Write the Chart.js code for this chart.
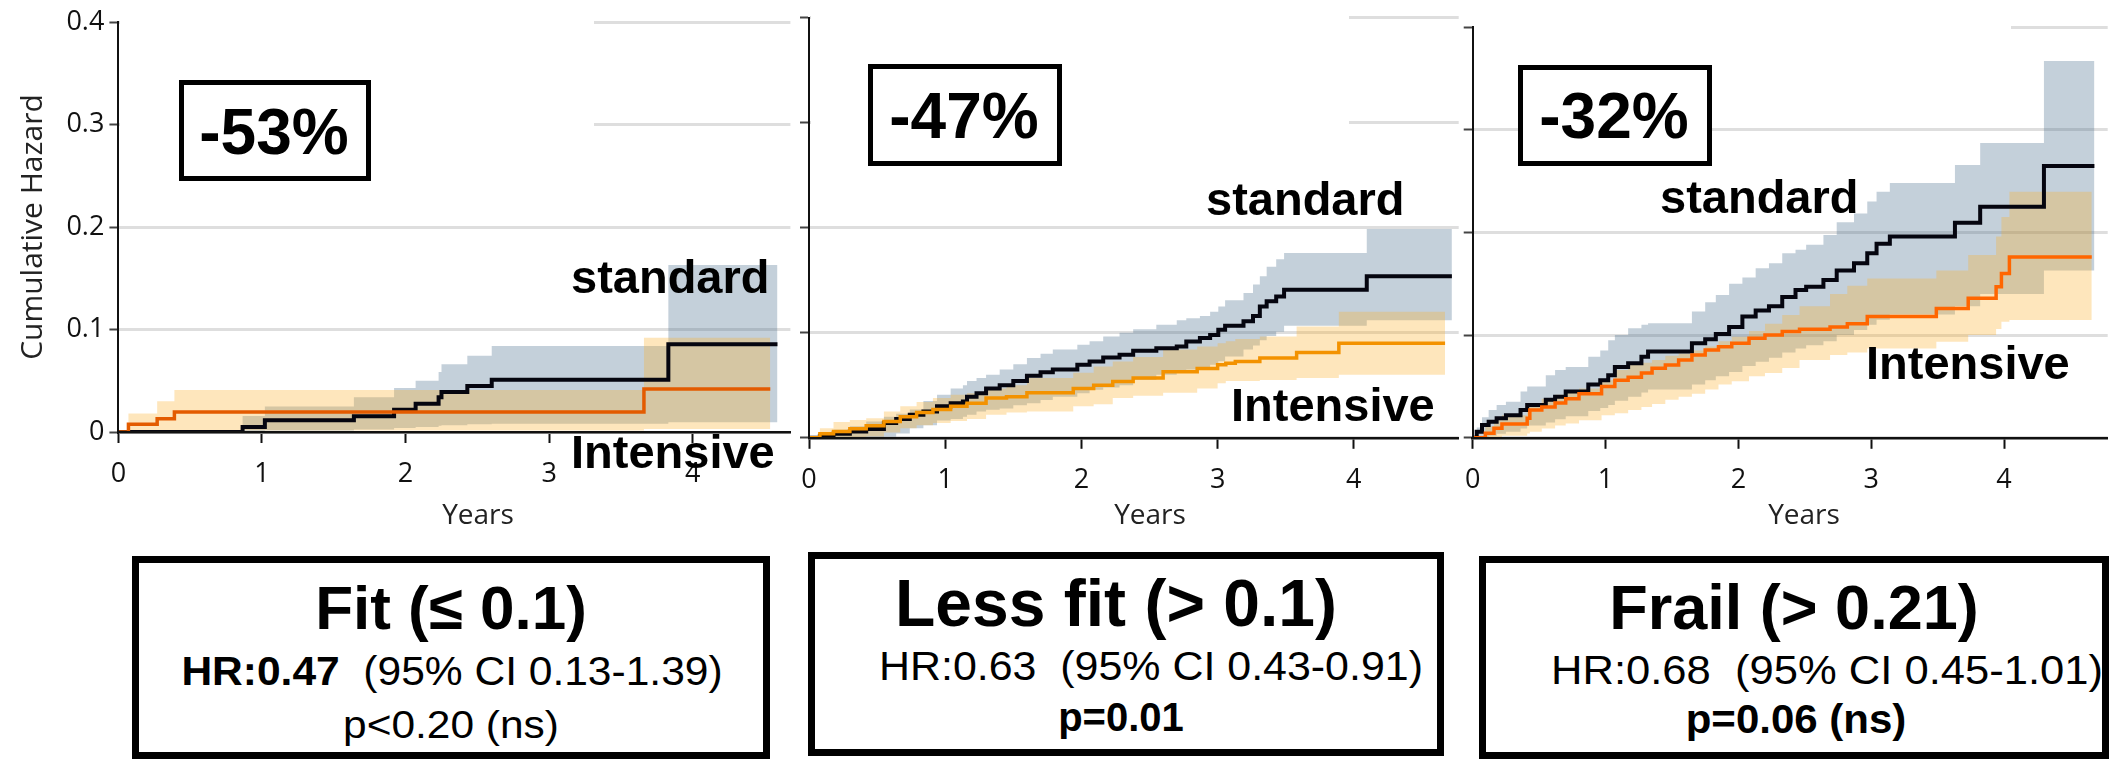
<!DOCTYPE html>
<html>
<head>
<meta charset="utf-8">
<script src="https://cdn.jsdelivr.net/npm/chart.js@4.4.1/dist/chart.umd.min.js"></script>
<style>
  html, body { margin: 0; padding: 0; background: #fff; }
  body { width: 2112px; height: 759px; position: relative; overflow: hidden; font-family: 'Liberation Sans', Arial, sans-serif; }
  canvas { position: absolute; top: 0; }
  .t { position: absolute; white-space: pre; line-height: 1em; color: #000; }
  .c { text-align: center; width: 900px; }
  .b { font-weight: bold; }
  .box { position: absolute; box-sizing: border-box; border: solid #000; background: #fff; }
  .yr { position: absolute; font-family: 'Open Sans'; font-size: 28px; line-height: 30px; width: 200px; text-align: center; color: #222; }
</style>
</head>
<body>
<canvas id="fit" width="800" height="530" style="left:0px"></canvas>
<canvas id="lessfit" width="680" height="530" style="left:785px"></canvas>
<canvas id="frail" width="662" height="530" style="left:1450px"></canvas>

<div class="yr" style="left:378px; top:498px">Years</div>
<div class="yr" style="left:1050px; top:498px">Years</div>
<div class="yr" style="left:1704px; top:498px">Years</div>

<!-- reduction boxes -->
<div class="box" style="left:179px; top:80px; width:192px; height:101px; border-width:5px"></div>
<div class="t c b" style="left:-176px; top:100px; font-size:64px">-53%</div>
<div class="box" style="left:868px; top:64px; width:194px; height:102px; border-width:5px"></div>
<div class="t c b" style="left:514px; top:84px; font-size:64px">-47%</div>
<div class="box" style="left:1518px; top:65px; width:194px; height:101px; border-width:5px"></div>
<div class="t c b" style="left:1164px; top:84px; font-size:64px">-32%</div>

<!-- group labels -->
<div class="t b" style="left:571px; top:253px; font-size:47px">standard</div>
<div class="t b" style="left:571px; top:428px; font-size:47px">Intensive</div>
<div class="t b" style="left:1206px; top:175px; font-size:47px">standard</div>
<div class="t b" style="left:1231px; top:381px; font-size:47px">Intensive</div>
<div class="t b" style="left:1660px; top:173px; font-size:47px">standard</div>
<div class="t b" style="left:1866px; top:339px; font-size:47px">Intensive</div>

<!-- summary boxes -->
<div class="box" style="left:132px; top:556px; width:638px; height:203px; border-width:7px"></div>
<div class="t c b" style="left:1px; top:577px; font-size:62px">Fit (≤ 0.1)</div>
<div class="t c" style="left:2px; top:651px; font-size:40px; transform:scaleX(1.063)"><b>HR:0.47</b>  (95% CI 0.13-1.39)</div>
<div class="t c" style="left:1px; top:706px; font-size:38px; transform:scaleX(1.117)">p&lt;0.20 (ns)</div>

<div class="box" style="left:808px; top:552px; width:636px; height:204px; border-width:7px"></div>
<div class="t c b" style="left:666px; top:570px; font-size:66px">Less fit (&gt; 0.1)</div>
<div class="t c" style="left:701px; top:646px; font-size:40px; transform:scaleX(1.073)">HR:0.63  (95% CI 0.43-0.91)</div>
<div class="t c b" style="left:671px; top:697px; font-size:40px">p=0.01</div>

<div class="box" style="left:1479px; top:556px; width:630px; height:203px; border-width:7px"></div>
<div class="t c b" style="left:1344px; top:576px; font-size:63px">Frail (&gt; 0.21)</div>
<div class="t c" style="left:1377px; top:650px; font-size:40px; transform:scaleX(1.089)">HR:0.68  (95% CI 0.45-1.01)</div>
<div class="t c b" style="left:1346px; top:699px; font-size:40px; transform:scaleX(1.05)">p=0.06 (ns)</div>

<script>
// axis ticks
const yTickValues = [0, 0.1, 0.2, 0.3, 0.4];
const yTickLabels = ['0', '0.1', '0.2', '0.3', '0.4'];
const xTickValues = [0, 1, 2, 3, 4];
const xTickLabels = ['0', '1', '2', '3', '4'];

// Fit (<= 0.1) : time in years, cumulative hazard, 95% band
const fitStdT  = [0, 0.865, 1.02, 1.64, 1.92, 2.07, 2.23, 2.25, 2.43, 2.60, 3.83, 4.59];
const fitStdH  = [0, 0.005, 0.0114, 0.0153, 0.0218, 0.0276, 0.034, 0.039, 0.045, 0.051, 0.0855, 0.0855];
const fitStdLo = [0, 0.0005, 0.0015, 0.0025, 0.004, 0.005, 0.006, 0.0065, 0.0075, 0.008, 0.0095, 0.0095];
const fitStdHi = [0, 0.0156, 0.025, 0.034, 0.043, 0.050, 0.0585, 0.066, 0.0745, 0.084, 0.163, 0.163];
const fitIntT  = [0, 0.07, 0.27, 0.39, 3.66, 4.54];
const fitIntH  = [0, 0.0075, 0.013, 0.0195, 0.042, 0.042];
const fitIntLo = [0, 0.0003, 0.0008, 0.0015, 0.003, 0.003];
const fitIntHi = [0, 0.018, 0.030, 0.041, 0.092, 0.092];

// Less fit (> 0.1)
const lessStdT  = [0, 0.08, 0.18, 0.30, 0.42, 0.55, 0.64, 0.74, 0.84, 0.94, 1.04, 1.13, 1.16, 1.23, 1.30, 1.40, 1.50, 1.60, 1.70, 1.79,
                   1.97, 2.06, 2.16, 2.28, 2.38, 2.55, 2.70, 2.77, 2.87, 2.945, 3.005, 3.055, 3.19, 3.26, 3.31, 3.36, 3.43, 3.488, 4.095, 4.72];
const lessStdH  = [0, .0019, .0038, .006, .0083, .014, .0178, .022, .025, .030, .033, .0346, .039, .0425, .047, .050, .054, .059, .0625, .065,
                   .0695, .0727, .0765, .079, .083, .0854, .087, .0917, .095, .098, .103, .1067, .111, .116, .125, .130, .1346, .141, .154, .154];
const lessStdLo = [0, 0, 0, 0, 0, .001, .004, .009, .012, .0165, .018, .020, .022, .025, .0267, .028, .031, .033, .036, .039,
                   .0425, .0457, .048, .050, .055, .060, .062, .065, .067, .0695, .073, .0775, .084, .088, .093, .097, .101, .1067, .112, .112];
const lessStdHi = [0, .003, .0076, .011, .0156, .020, .023, .027, .035, .041, .047, .050, .054, .057, .060, .065, .070, .076, .080, .084,
                   .0886, .092, .0965, .100, .1035, .1076, .112, .114, .116, .120, .125, .131, .138, .146, .154, .163, .170, .176, .199, .199];
const lessIntT  = [0, .08, .18, .30, .42, .55, .67, .79, .91, 1.04, 1.16, 1.30, 1.45, 1.60, 1.94, 2.09, 2.23, 2.38, 2.60, 2.85, 3.0, 3.06, 3.13, 3.31, 3.58, 3.89, 4.67];
const lessIntH  = [0, .0038, .006, .0086, .0114, .0156, .020, .024, .027, .030, .033, .038, .039, .043, .047, .050, .0537, .057, .063, .066, .0695, .071, .0727, .076, .0813, .090, .090];
const lessIntLo = [0, 0, 0, 0, .0013, .005, .0092, .012, .014, .016, .0178, .022, .024, .025, .030, .032, .038, .040, .043, .047, .052, .054, .054, .055, .057, .060, .060];
const lessIntHi = [0, .0092, .015, .017, .0187, .025, .030, .034, .038, .041, .0425, .047, .050, .057, .062, .068, .0727, .077, .084, .087, .090, .092, .094, .0965, .106, .120, .120];

// Frail (> 0.21)
const frailStdT  = [0, .03, .07, .12, .18, .25, .36, .41, .55, .62, .70, .87, .96, 1.02, 1.07, 1.17, 1.27, 1.32, 1.65, 1.75,
                    1.83, 1.93, 2.03, 2.13, 2.23, 2.33, 2.43, 2.51, 2.64, 2.74, 2.87, 2.97, 3.04, 3.14, 3.63, 3.82, 4.30, 4.68];
const frailStdH  = [0, .006, .0125, .0157, .019, .022, .027, .032, .037, .040, .045, .052, .056, .061, .069, .0725, .079, .084, .092, .096,
                    .101, .108, .118, .124, .128, .137, .144, .147, .1537, .163, .170, .1796, .189, .196, .2094, .225, .2646, .2646];
const frailStdLo = [0, 0, .001, .002, .004, .006, .009, .012, .015, .018, .021, .026, .029, .032, .036, .040, .044, .047, .052, .056,
                    .060, .064, .070, .074, .078, .083, .087, .090, .094, .100, .105, .110, .115, .120, .128, .140, .163, .163];
const frailStdHi = [0, .010, .020, .027, .032, .035, .045, .050, .061, .066, .069, .079, .085, .095, .100, .1066, .110, .1115, .123, .132,
                    .139, .150, .156, .165, .170, .1796, .183, .188, .1975, .210, .2185, .230, .2396, .248, .2656, .287, .367, .367];
const frailIntT  = [0, .095, .16, .22, .41, .43, .52, .62, .70, .80, .97, 1.07, 1.17, 1.27, 1.35, 1.45, 1.55, 1.65, 1.75, 1.85,
                    1.95, 2.08, 2.20, 2.33, 2.46, 2.69, 2.82, 2.97, 3.49, 3.73, 3.94, 3.98, 4.04, 4.66];
const frailIntH  = [0, .0045, .0092, .0134, .019, .027, .030, .034, .038, .043, .050, .056, .059, .063, .0676, .071, .0757, .0806, .0855, .0887,
                    .092, .097, .100, .1034, .1056, .108, .111, .118, .126, .136, .147, .160, .176, .176];
const frailIntLo = [0, 0, 0, .002, .0043, .006, .009, .012, .014, .017, .022, .024, .027, .030, .033, .037, .040, .043, .047, .052,
                    .055, .060, .063, .068, .0757, .0806, .083, .087, .0935, .100, .106, .113, .1147, .1147];
const frailIntHi = [0, .011, .017, .022, .030, .0336, .038, .042, .045, .048, .056, .066, .071, .073, .0757, .080, .082, .085, .0888, .094,
                    .0985, .104, .111, .1196, .128, .140, .148, .155, .163, .178, .196, .215, .2396, .2396];

Chart.defaults.font.family = 'Open Sans';

function steps(t, v) {
    return t.map((x, i) => ({ x: x, y: v[i] }));
}

// white patches hiding the upper grid lines, as in the original figure
const maskPlugin = {
    id: 'mask',
    beforeDatasetsDraw(chart, args, opts) {
        const ctx = chart.ctx;
        ctx.save();
        ctx.fillStyle = '#fff';
        (opts.rects || []).forEach(r => ctx.fillRect(r[0], r[1], r[2], r[3]));
        ctx.restore();
    }
};

function band(t, v, color, fill) {
    return {
        data: steps(t, v),
        stepped: true,
        borderWidth: 0,
        borderColor: 'rgba(0,0,0,0)',
        backgroundColor: color || 'rgba(0,0,0,0)',
        pointRadius: 0,
        fill: fill
    };
}

function panel(id, p) {
    return new Chart(document.getElementById(id), {
        type: 'line',
        data: {
            datasets: [
                { data: steps(p.intT, p.intH), stepped: true, borderColor: p.orange, borderWidth: 3.5, pointRadius: 0, fill: false },
                { data: steps(p.stdT, p.stdH), stepped: true, borderColor: '#05050f', borderWidth: 4, pointRadius: 0, fill: false },
                band(p.intT, p.intHi, 'rgba(252,175,40,0.31)', '+1'),
                band(p.intT, p.intLo, null, false),
                band(p.stdT, p.stdHi, 'rgba(70,110,140,0.32)', '+1'),
                band(p.stdT, p.stdLo, null, false)
            ]
        },
        plugins: [maskPlugin],
        options: {
            responsive: false,
            animation: false,
            events: [],
            layout: { padding: { top: p.top, right: p.right, bottom: 0, left: 0 } },
            plugins: {
                legend: { display: false },
                tooltip: { enabled: false },
                mask: { rects: p.masks }
            },
            scales: {
                x: {
                    type: 'linear',
                    min: 0,
                    max: p.xMax,
                    afterBuildTicks: s => { s.ticks = xTickValues.map(v => ({ value: v })); },
                    afterFit: s => { s.height = p.xAxisH; },
                    ticks: {
                        callback: (v, i) => xTickLabels[i],
                        font: { size: 27 },
                        color: '#111',
                        padding: 15,
                        maxRotation: 0,
                        autoSkip: false
                    },
                    grid: { drawOnChartArea: false, drawTicks: true, tickLength: 11, tickColor: '#111', tickWidth: 2 },
                    border: { display: true, color: '#111', width: 2.5, z: 1 }
                },
                y: {
                    min: 0,
                    max: 0.4,
                    afterBuildTicks: s => { s.ticks = yTickValues.map(v => ({ value: v })); },
                    afterFit: s => { s.width = p.yAxisW; },
                    ticks: {
                        display: p.showY,
                        callback: (v, i) => yTickLabels[i],
                        font: { size: 27 },
                        color: '#111',
                        padding: 5
                    },
                    grid: { color: '#dedede', lineWidth: 3, tickLength: 9, tickColor: '#444', tickWidth: 2 },
                    border: { display: true, color: '#111', width: 2, z: 1 },
                    title: {
                        display: p.showY,
                        text: 'Cumulative Hazard',
                        font: { size: 30 },
                        color: '#222',
                        padding: { top: 15, bottom: 0 }
                    }
                }
            }
        }
    });
}

panel('fit', {
    stdT: fitStdT, stdH: fitStdH, stdLo: fitStdLo, stdHi: fitStdHi,
    intT: fitIntT, intH: fitIntH, intLo: fitIntLo, intHi: fitIntHi,
    orange: '#e35b00', showY: true,
    xMax: 4.68, yAxisW: 118.4, xAxisH: 98, top: 22, right: 9.6,
    masks: [[120, 0, 474, 140]]
});

panel('lessfit', {
    stdT: lessStdT, stdH: lessStdH, stdLo: lessStdLo, stdHi: lessStdHi,
    intT: lessIntT, intH: lessIntH, intLo: lessIntLo, intHi: lessIntHi,
    orange: '#f39200', showY: false,
    xMax: 4.77, yAxisW: 24, xAxisH: 92.2, top: 17.9, right: 6.3,
    masks: [[26, 0, 538, 140]]
});

panel('frail', {
    stdT: frailStdT, stdH: frailStdH, stdLo: frailStdLo, stdHi: frailStdHi,
    intT: frailIntT, intH: frailIntH, intLo: frailIntLo, intHi: frailIntHi,
    orange: '#ff6600', showY: false,
    xMax: 4.78, yAxisW: 22.4, xAxisH: 92.2, top: 27, right: 4.3,
    masks: [[24, 0, 537, 45]]
});
</script>
</body>
</html>
